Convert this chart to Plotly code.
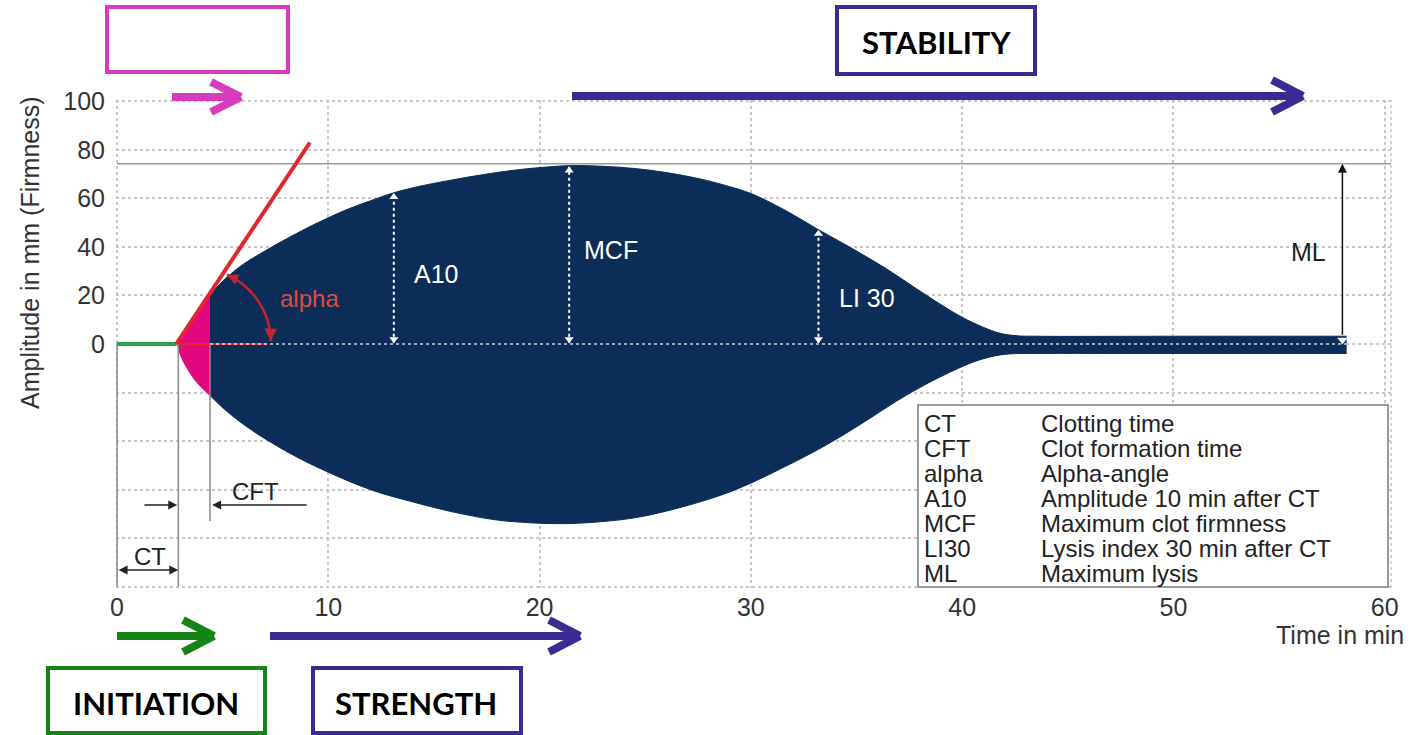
import math
import plotly.graph_objects as go

# ---------------- data ----------------
x_ticks = [0, 10, 20, 30, 40, 50, 60]
y_ticks = [-100, -80, -60, -40, -20, 0, 20, 40, 60, 80, 100]
y_tick_text = ["" if v < 0 else str(v) for v in y_ticks]

ct_time = 2.9
cft_time = 4.4
a10_time, a10_amp = 13.1, 62.5
mcf_time, mcf_amp = 21.4, 73.5
li30_time, li30_amp = 33.2, 47.4
ml_time, ml_base = 58.0, 3.2
mcf_level = 74.2

# initiation (pink) part of the trace
pink_up_t = [2.85, 3.2, 3.7, 4.4]
pink_up_a = [0, 5.5, 12, 20.5]
pink_lo_t = [2.85, 3.0, 3.2, 3.7, 4.4]
pink_lo_a = [0, -4.5, -8.2, -15, -21.2]

# main clot trace (navy)
upper_t = [4.4, 5.2, 6.0, 7.0, 8.0, 9.0, 10.0, 11.0, 12.0, 13.1, 14.5, 16.0,
           17.5, 19.0, 20.5, 21.5, 23.0, 24.5, 26.0, 27.6, 29.0, 30.0, 31.6,
           33.1, 34.7, 36.3, 37.9, 39.0, 40.0, 41.0, 41.8, 42.6, 43.5, 50.0, 58.2]
upper_a = [20.5, 27.5, 33.0, 38.3, 43.2, 47.8, 52, 55.8, 59, 62.3, 65.3, 67.8,
           70, 71.8, 73, 73.5, 73.2, 72.3, 70.6, 68, 64.8, 62, 55.2,
           47.6, 39.8, 31.6, 22.4, 16.2, 11, 6.9, 4.4, 3.4, 3.2, 3.2, 3.2]
lower_t = [4.4, 5.1, 6.0, 7.0, 8.5, 10.1, 12.0, 13.8, 15.8, 17.9, 19.5, 21.1,
           22.9, 24.7, 26.8, 28.8, 30.2, 31.5, 32.9, 34.2, 35.6, 36.9, 38.3,
           39.6, 40.6, 41.6, 42.4, 43.3, 50.0, 58.2]
lower_a = [-21.2, -27.0, -33.2, -39.0, -46.5, -53.2, -60, -64.6, -69, -72.4, -73.6, -74,
           -73.2, -71.3, -67, -61.6, -56.5, -51, -44.8, -38.4, -30.8, -23.5, -16.5,
           -10.9, -7.2, -4.8, -4.0, -3.9, -3.9, -3.9]

tangent_t = [2.8, 9.13]
tangent_a = [0, 83]

legend_abbr = ["CT", "CFT", "alpha", "A10", "MCF", "LI30", "ML"]
legend_desc = ["Clotting time", "Clot formation time", "Alpha-angle",
               "Amplitude 10 min after CT", "Maximum clot firmness",
               "Lysis index 30 min after CT", "Maximum lysis"]

# ---------------- layout geometry ----------------
W, H = 1410, 735
L, R, T, B = 116, 19, 100, 147
XR = [-0.05, 60.3]
YR = [-100.5, 100.5]
PW, PH = W - L - R, H - T - B


def pxx(px):
    return (px - L) / PW


def pxy(py):
    return (H - B - py) / PH


def dxx(px):
    return XR[0] + (px - L) / PW * (XR[1] - XR[0])


def dyy(py):
    return YR[1] - (py - T) / PH * (YR[1] - YR[0])


NAVY = "#0B2D58"
PINK = "#E2067F"
RED = "#E3262B"
DARKRED = "#C3262C"
GREEN_LINE = "#2E9E48"
PURPLE = "#3A2A92"
MAGENTA = "#D93BBE"
GREEN = "#168316"
FONT = "Liberation Sans"

fig = go.Figure()

spl = dict(shape="spline", smoothing=1.0)
# navy clot body
fig.add_trace(go.Scatter(x=upper_t, y=upper_a, mode="lines", fill="tozeroy",
                         fillcolor=NAVY, line=dict(color=NAVY, width=1, **spl),
                         hoverinfo="skip", showlegend=False))
fig.add_trace(go.Scatter(x=lower_t, y=lower_a, mode="lines", fill="tozeroy",
                         fillcolor=NAVY, line=dict(color=NAVY, width=1, **spl),
                         hoverinfo="skip", showlegend=False))
# pink initiation
fig.add_trace(go.Scatter(x=pink_up_t, y=pink_up_a, mode="lines", fill="tozeroy",
                         fillcolor=PINK, line=dict(color=PINK, width=1, **spl),
                         hoverinfo="skip", showlegend=False))
fig.add_trace(go.Scatter(x=pink_lo_t, y=pink_lo_a, mode="lines", fill="tozeroy",
                         fillcolor=PINK, line=dict(color=PINK, width=1, **spl),
                         hoverinfo="skip", showlegend=False))

# green baseline before CT
fig.add_trace(go.Scatter(x=[0, tangent_t[0]], y=[0, 0], mode="lines",
                         line=dict(color=GREEN_LINE, width=4), hoverinfo="skip", showlegend=False))

# dotted white measurement arrows
for t, a in [(a10_time, a10_amp), (mcf_time, mcf_amp), (li30_time, li30_amp)]:
    fig.add_trace(go.Scatter(x=[t, t], y=[0.5, a - 0.5], mode="lines",
                             line=dict(color="white", width=2, dash="dot"),
                             hoverinfo="skip", showlegend=False))
    fig.add_trace(go.Scatter(x=[t, t], y=[a - 2.0, 2.0], mode="markers",
                             marker=dict(symbol=["triangle-up", "triangle-down"], size=8, color="white"),
                             hoverinfo="skip", showlegend=False))

# red tangent
fig.add_trace(go.Scatter(x=tangent_t, y=tangent_a, mode="lines",
                         line=dict(color=RED, width=4), hoverinfo="skip", showlegend=False))
fig.add_trace(go.Scatter(x=[tangent_t[0], 7.1], y=[0, 0], mode="lines",
                         line=dict(color=RED, width=2), hoverinfo="skip", showlegend=False))

# ML marker at band
fig.add_trace(go.Scatter(x=[ml_time], y=[1.6], mode="markers",
                         marker=dict(symbol="triangle-down", size=9, color="white"),
                         hoverinfo="skip", showlegend=False))

shapes = []
# zero dotted line over the navy body
shapes.append(dict(type="line", xref="x", yref="y", x0=cft_time, x1=58.2, y0=0, y1=0,
                   line=dict(color="rgba(255,255,255,0.8)", width=1.5, dash="dot"), layer="above"))
# MCF level line
shapes.append(dict(type="line", xref="x", yref="y", x0=0, x1=XR[1], y0=mcf_level, y1=mcf_level,
                   line=dict(color="#9a9a9a", width=1.5), layer="below"))
# right frame (dotted)
shapes.append(dict(type="line", xref="paper", yref="paper", x0=1, x1=1, y0=0, y1=1,
                   line=dict(color="#c8c8c8", width=1.5, dash="dot"), layer="below"))
# vertical gray reference lines
for xv, y_end in [(0, -100), (ct_time, -100), (cft_time, dyy(521))]:
    shapes.append(dict(type="line", xref="x", yref="y", x0=xv, x1=xv, y0=0, y1=y_end,
                       line=dict(color="#8a8a8a", width=1.5), layer="above"))

# alpha arc (pixel-space circle converted to data)
cx_px, cy_px, r_px = 196, 343, 75
pts = []
for i in range(31):
    th = math.radians(65.5 - i * (64.0 / 30))
    px = cx_px + r_px * math.cos(th)
    py = cy_px - r_px * math.sin(th)
    pts.append((dxx(px), dyy(py)))
path = "M " + " L ".join(f"{x:.4f},{y:.4f}" for x, y in pts)
shapes.append(dict(type="path", xref="x", yref="y", path=path,
                   line=dict(color=DARKRED, width=2.5), layer="above"))

# legend box
shapes.append(dict(type="rect", xref="paper", yref="paper", x0=pxx(918), x1=pxx(1388),
                   y0=pxy(587), y1=pxy(405), line=dict(color="#9a9a9a", width=2),
                   fillcolor="white", layer="above"))

# outside boxes
def box(x0, y0, x1, y1, color):
    shapes.append(dict(type="rect", xref="paper", yref="paper", x0=pxx(x0), x1=pxx(x1),
                       y0=pxy(y1), y1=pxy(y0), line=dict(color=color, width=4),
                       fillcolor="rgba(0,0,0,0)"))


box(107, 7, 288, 72, MAGENTA)
box(837, 7, 1035, 74, PURPLE)
box(48, 668, 265, 733, GREEN)
box(313, 668, 521, 733, PURPLE)


def chevron_arrow(x0, x1, y, color, head=31, spread=16):
    segs = [((x0, y), (x1 - 3, y)), ((x1 - head, y - spread), (x1, y)),
            ((x1 - head, y + spread), (x1, y))]
    for (a, b), (c, d) in segs:
        shapes.append(dict(type="line", xref="paper", yref="paper", x0=pxx(a), y0=pxy(b),
                           x1=pxx(c), y1=pxy(d), line=dict(color=color, width=8)))


chevron_arrow(172, 241, 97, MAGENTA, head=30, spread=15)
chevron_arrow(572, 1303, 96, PURPLE)
chevron_arrow(117, 214, 636, GREEN)
chevron_arrow(270, 580, 636, PURPLE)

annotations = []


def txt(text, px, py, size, color="#333333", xanchor="center", family=FONT, **kw):
    annotations.append(dict(text=text, xref="paper", yref="paper", x=pxx(px), y=pxy(py),
                            xanchor=xanchor, yanchor="middle", showarrow=False,
                            font=dict(family=family, size=size, color=color), **kw))


# axis titles
txt("Amplitude in mm (Firmness)", 30, 253, 25, textangle=-90)
txt("Time in min", 1406, 635, 25, xanchor="right")

# in-plot labels
txt("alpha", 309, 298, 24, color="#E04A40")
txt("A10", 436, 274, 25, color="white")
txt("MCF", 611, 250, 25, color="white")
txt("LI 30", 867, 298, 25, color="white")
txt("ML", 1308, 252, 25, color="#222222")
txt("CFT", 255, 491, 24, color="#222222")
txt("CT", 150, 556, 24, color="#222222")

# legend
for i, (ab, de) in enumerate(zip(legend_abbr, legend_desc)):
    yy = 423 + i * 25
    txt(ab, 922, yy, 24, color="#222222", xanchor="left")
    txt(de, 1039, yy, 24, color="#222222", xanchor="left")

# box labels
txt("<b>STABILITY</b>", 936, 42, 31, color="black", family="Lato")
txt("<b>INITIATION</b>", 156, 703, 31, color="black", family="Lato")
txt("<b>STRENGTH</b>", 416, 703, 31, color="black", family="Lato")


def arrow(xh, yh, xt, yt, color="#222222", width=1.5, side="end", size=1.2):
    annotations.append(dict(x=xh, y=yh, ax=xt, ay=yt, xref="x", yref="y", axref="x", ayref="y",
                            text="", showarrow=True, arrowhead=2, startarrowhead=2,
                            arrowsize=size, startarrowsize=size, arrowwidth=width,
                            arrowcolor=color, arrowside=side, standoff=0, startstandoff=0))


# CT double arrow
arrow(ct_time, dyy(570), 0, dyy(570), side="end+start")
# CFT arrows
arrow(ct_time - 0.05, dyy(505), dxx(143), dyy(505))
arrow(cft_time + 0.1, dyy(505), dxx(308), dyy(505))
# ML arrow
arrow(ml_time, mcf_level, ml_time, ml_base, color="#111111", width=1.5)
# alpha arc heads
arrow(dxx(270.5), dyy(341), dxx(270.8), dyy(328), color=DARKRED, width=2.5, size=1.0)
arrow(dxx(227), dyy(275), dxx(236), dyy(279), color=DARKRED, width=2.5, size=0.9)

fig.update_layout(
    width=W, height=H,
    margin=dict(l=L, r=R, t=T, b=B, pad=0),
    paper_bgcolor="white", plot_bgcolor="white",
    showlegend=False,
    shapes=shapes, annotations=annotations,
    xaxis=dict(range=XR, tickvals=x_ticks, ticktext=[str(v) for v in x_ticks],
               showgrid=True, gridcolor="#c8c8c8", gridwidth=1.5, griddash="dot",
               zeroline=False, showline=False, ticks="", ticklabelstandoff=2,
               tickfont=dict(family=FONT, size=25, color="#333333")),
    yaxis=dict(range=YR, tickvals=y_ticks, ticktext=y_tick_text,
               showgrid=True, gridcolor="#c8c8c8", gridwidth=1.5, griddash="dot",
               zeroline=False, showline=False, ticks="", ticklabelstandoff=10,
               tickfont=dict(family=FONT, size=25, color="#333333")),
)

fig.write_html("out.html", config={"displayModeBar": False},
               post_script="document.body.style.margin='0';document.body.style.padding='0';"
                           "document.body.style.overflow='hidden';")
